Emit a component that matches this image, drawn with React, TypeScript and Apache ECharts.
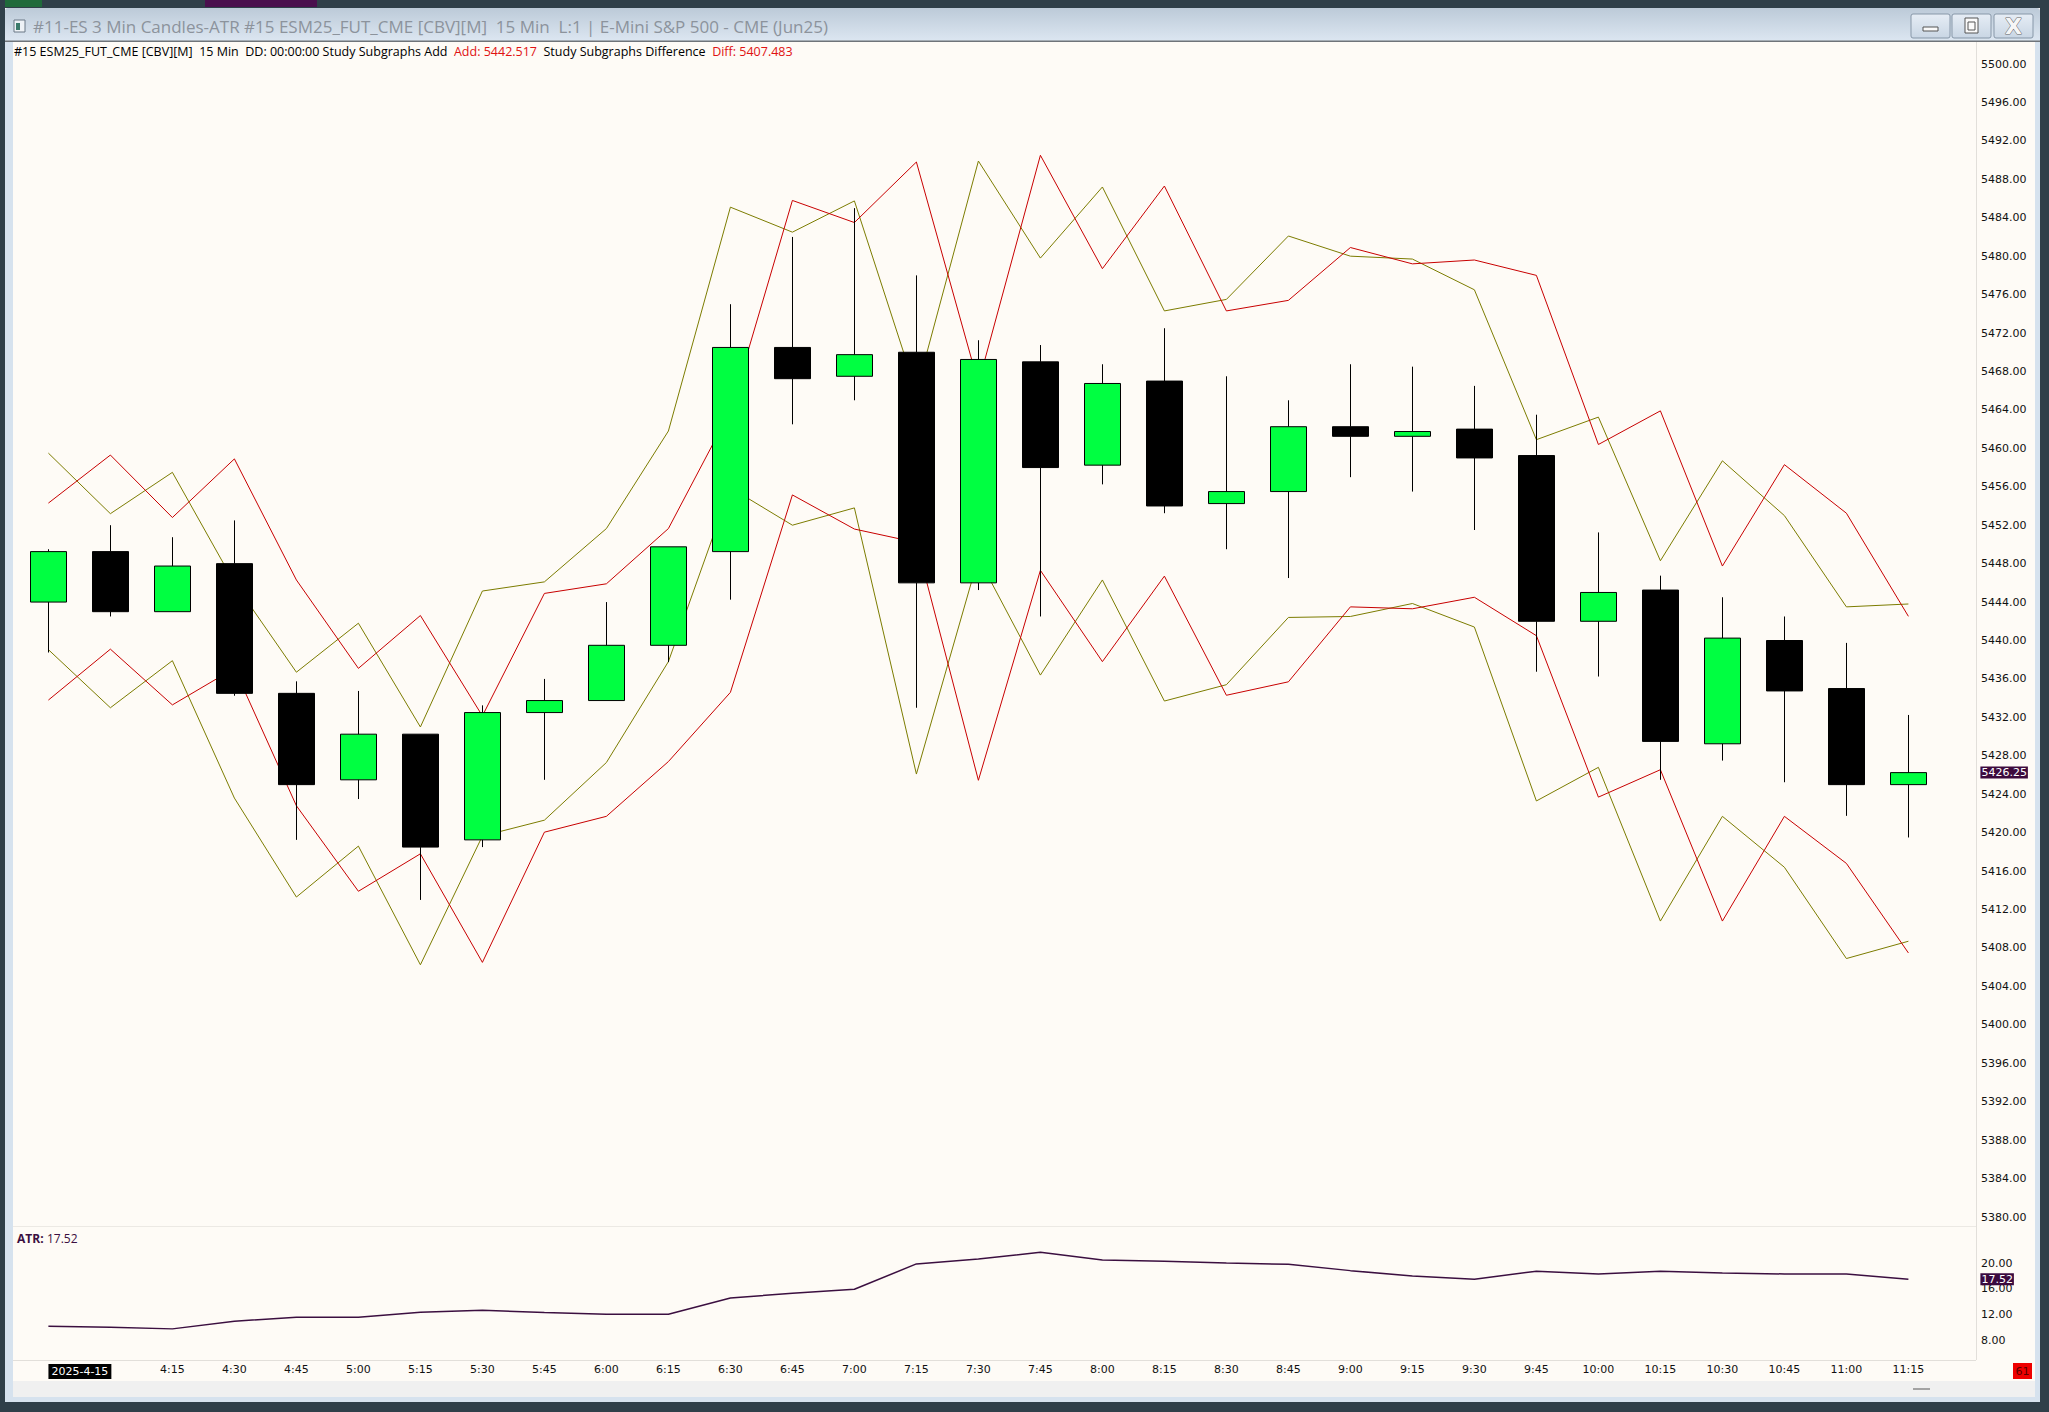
import React, { useEffect, useRef } from 'react';
import * as echarts from 'echarts';

// 15 min bars, 2025-4-15
const times = [
  '3:45', '4:00', '4:15', '4:30', '4:45', '5:00', '5:15', '5:30', '5:45', '6:00', '6:15',
  '6:30', '6:45', '7:00', '7:15', '7:30', '7:45', '8:00', '8:15', '8:30', '8:45', '9:00',
  '9:15', '9:30', '9:45', '10:00', '10:15', '10:30', '10:45', '11:00', '11:15',
];
const dateLabel = '2025-4-15';

const openPrices = [
  5444, 5449.25, 5443, 5448, 5434.5, 5425.5, 5430.25, 5419.25, 5432.5, 5433.75, 5439.5,
  5449.25, 5470.5, 5467.5, 5470, 5446, 5469, 5458.25, 5467, 5454.25, 5455.5, 5462.25,
  5461.25, 5462, 5459.25, 5442, 5445.25, 5429.25, 5440, 5435, 5425,
];
const closePrices = [
  5449.25, 5443, 5447.75, 5434.5, 5425, 5430.25, 5418.5, 5432.5, 5433.75, 5439.5, 5449.75,
  5470.5, 5467.25, 5469.75, 5446, 5469.25, 5458, 5466.75, 5454, 5455.5, 5462.25, 5461.25,
  5461.75, 5459, 5442, 5445, 5429.5, 5440.25, 5434.75, 5425, 5426.25,
];
const highPrices = [
  5449.5, 5452, 5450.75, 5452.5, 5435.75, 5434.75, 5430.25, 5433.25, 5436, 5444, 5449.75,
  5475, 5482, 5485, 5478, 5471.25, 5470.75, 5468.75, 5472.5, 5467.5, 5465, 5468.75,
  5468.5, 5466.5, 5463.5, 5451.25, 5446.75, 5444.5, 5442.5, 5439.75, 5432.25,
];
const lowPrices = [
  5438.75, 5442.5, 5443, 5434.25, 5419.25, 5423.5, 5413, 5418.5, 5425.5, 5433.75, 5437.75,
  5444.25, 5462.5, 5465, 5433, 5445.25, 5442.5, 5456.25, 5453.25, 5449.5, 5446.5, 5457,
  5455.5, 5451.5, 5436.75, 5436.25, 5425.5, 5427.5, 5425.25, 5421.75, 5419.5,
];

// olive bands
const oliveUpper = [
  5459.5, 5453.2, 5457.5, 5446, 5436.7, 5441.8, 5431, 5445.15, 5446.1, 5451.65, 5461.8,
  5485.1, 5482.5, 5485.75, 5465.9, 5489.9, 5479.8, 5487.2, 5474.3, 5475.5, 5482.1, 5480,
  5479.7, 5476.5, 5460.9, 5463.25, 5448.3, 5458.7, 5453, 5443.5, 5443.8,
];
const oliveLower = [
  5439.05, 5433, 5437.9, 5423.6, 5413.3, 5418.6, 5406.25, 5419.65, 5421.3, 5427.3, 5437.8,
  5455.9, 5452, 5453.8, 5426.1, 5448.6, 5436.4, 5446.3, 5433.7, 5435.4, 5442.4, 5442.5,
  5443.85, 5441.4, 5423.3, 5426.8, 5410.8, 5421.7, 5416.4, 5406.9, 5408.7,
];
// red bands (Study Subgraphs Add / Difference)
const addLine = [
  5454.3, 5459.3, 5452.8, 5458.9, 5446.3, 5437.1, 5442.6, 5432.15, 5444.9, 5445.9, 5451.65,
  5463.9, 5485.8, 5483.5, 5489.8, 5466.75, 5490.5, 5478.7, 5487.3, 5474.3, 5475.4, 5480.9,
  5479.2, 5479.6, 5478, 5460.4, 5463.9, 5447.75, 5458.3, 5453.25, 5442.517,
];
const diffLine = [
  5433.8, 5439.1, 5433.3, 5437.1, 5422.8, 5413.9, 5417.8, 5406.5, 5420.05, 5421.7, 5427.4,
  5434.6, 5455.15, 5451.6, 5450.2, 5425.45, 5447.3, 5437.8, 5446.7, 5434.3, 5435.7, 5443.5,
  5443.3, 5444.5, 5440.5, 5423.7, 5426.55, 5410.8, 5421.7, 5416.8, 5407.483,
];

const atrValues = [
  10.16, 10, 9.74, 10.94, 11.56, 11.56, 12.34, 12.66, 12.3, 12.03, 12.03,
  14.58, 15.31, 15.94, 19.9, 20.68, 21.72, 20.52, 20.31, 20.05, 19.84, 18.85,
  18.02, 17.5, 18.75, 18.33, 18.75, 18.49, 18.33, 18.33, 17.52,
];

const FONT = "'DejaVu Sans', 'Noto Sans', sans-serif";
const HEAD_FONT = "'Open Sans', 'Noto Sans', sans-serif";
const DARK = '#2f3f49';
const FRAME = '#d6e2ee';

const App: React.FC = () => {
  const chartRef = useRef<HTMLDivElement | null>(null);

  useEffect(() => {
    document.body.style.margin = '0';
    const chart = echarts.init(chartRef.current!, null, { renderer: 'svg' });

    const last = times.length - 1;
    const candles = times.map((_, i) => [openPrices[i], closePrices[i], lowPrices[i], highPrices[i]]);

    const plotLeft = 17.4;
    const plotWidth = 1922;
    const axisOffset = 36.6;

    const header =
      '{b|#15 ESM25_FUT_CME [CBV][M]  15 Min  DD: 00:00:00 Study Subgraphs Add  }' +
      `{r|Add: ${addLine[last].toFixed(3)}}` +
      '{b|  Study Subgraphs Difference  }' +
      `{r|Diff: ${diffLine[last].toFixed(3)}}`;

    const buttonFill = new echarts.graphic.LinearGradient(0, 0, 0, 1, [
      { offset: 0, color: '#e6edf5' },
      { offset: 1, color: '#c9d6e4' },
    ]);

    const valueTag = (bg: string) => ({
      silent: true,
      symbol: ['none', 'none'],
      lineStyle: { color: 'rgba(0,0,0,0)', width: 0 },
      label: {
        show: true,
        position: 'end',
        distance: 41,
        fontSize: 11,
        fontFamily: FONT,
        color: '#fff',
        backgroundColor: bg,
        padding: [1, 1, 0, 1],
        formatter: (p: any) => Number(p.value).toFixed(2),
      },
    });

    const option = {
      animation: false,
      backgroundColor: '#fefbf6',
      textStyle: { fontFamily: FONT },
      grid: [
        { left: plotLeft, top: 64, width: plotWidth, height: 1153, outerBoundsMode: 'none' },
        { left: plotLeft, top: 1237.7, width: plotWidth, height: 102.3, outerBoundsMode: 'none' },
      ],
      xAxis: [
        {
          type: 'category',
          gridIndex: 0,
          data: times,
          axisLine: { show: false },
          axisTick: { show: false },
          axisLabel: { show: false },
          splitLine: { show: false },
        },
        {
          type: 'category',
          gridIndex: 1,
          data: times,
          axisLine: { show: false },
          axisTick: { show: false },
          splitLine: { show: false },
          axisLabel: {
            interval: 0,
            margin: 24,
            fontSize: 11,
            fontFamily: FONT,
            color: '#111',
            formatter: (v: string, i: number) => {
              if (i === 0) return `{sp|}{d|${dateLabel}}`;
              if (i === 1) return '';
              return v;
            },
            rich: {
              sp: { width: 63 },
              d: {
                backgroundColor: '#000',
                color: '#fff',
                padding: [2, 3, 2, 3],
                fontSize: 11,
                fontFamily: FONT,
              },
            },
          },
        },
      ],
      yAxis: [
        {
          type: 'value',
          gridIndex: 0,
          position: 'right',
          offset: axisOffset,
          min: 5380,
          max: 5500,
          interval: 4,
          axisLine: { show: false },
          axisTick: { show: false },
          splitLine: { show: false },
          axisLabel: {
            margin: 5,
            fontSize: 11,
            fontFamily: FONT,
            color: '#111',
            formatter: (v: number) => v.toFixed(2),
          },
        },
        {
          type: 'value',
          gridIndex: 1,
          position: 'right',
          offset: axisOffset,
          min: 8,
          max: 24,
          interval: 4,
          axisLine: { show: false },
          axisTick: { show: false },
          splitLine: { show: false },
          axisLabel: {
            margin: 5,
            fontSize: 11,
            fontFamily: FONT,
            color: '#111',
            formatter: (v: number) => (v >= 24 ? '' : v.toFixed(2)),
          },
        },
      ],
      series: [
        {
          name: 'Olive upper',
          type: 'line',
          xAxisIndex: 0,
          yAxisIndex: 0,
          data: oliveUpper,
          symbol: 'none',
          lineStyle: { color: '#7c7c00', width: 1 },
          z: 1,
        },
        {
          name: 'Olive lower',
          type: 'line',
          xAxisIndex: 0,
          yAxisIndex: 0,
          data: oliveLower,
          symbol: 'none',
          lineStyle: { color: '#7c7c00', width: 1 },
          z: 1,
        },
        {
          name: 'Add',
          type: 'line',
          xAxisIndex: 0,
          yAxisIndex: 0,
          data: addLine,
          symbol: 'none',
          lineStyle: { color: '#c80000', width: 1 },
          z: 1,
        },
        {
          name: 'Diff',
          type: 'line',
          xAxisIndex: 0,
          yAxisIndex: 0,
          data: diffLine,
          symbol: 'none',
          lineStyle: { color: '#c80000', width: 1 },
          z: 1,
        },
        {
          name: 'ESM25',
          type: 'candlestick',
          xAxisIndex: 0,
          yAxisIndex: 0,
          data: candles,
          barWidth: 37,
          clip: false,
          z: 3,
          itemStyle: {
            color: '#00ff41',
            color0: '#000000',
            borderColor: '#000000',
            borderColor0: '#000000',
            borderWidth: 1,
          },
          markLine: { ...valueTag('#3d0b3d'), data: [{ yAxis: closePrices[last] }] },
        },
        {
          name: 'ATR',
          type: 'line',
          xAxisIndex: 1,
          yAxisIndex: 1,
          data: atrValues,
          symbol: 'none',
          clip: false,
          lineStyle: { color: '#3b0f40', width: 1.5 },
          markLine: { ...valueTag('#3b0a3f'), data: [{ yAxis: atrValues[last] }] },
        },
      ],
      graphic: [
        // desktop behind the window
        { type: 'rect', shape: { x: 0, y: 0, width: 2049, height: 8 }, style: { fill: DARK } },
        { type: 'rect', shape: { x: 0, y: 0, width: 42, height: 7 }, style: { fill: '#1f6a3b' } },
        { type: 'rect', shape: { x: 205, y: 0, width: 112, height: 7 }, style: { fill: '#4a0f4e' } },
        { type: 'rect', shape: { x: 0, y: 0, width: 5, height: 1412 }, style: { fill: DARK } },
        { type: 'rect', shape: { x: 2040, y: 0, width: 9, height: 1412 }, style: { fill: DARK } },
        { type: 'rect', shape: { x: 0, y: 1402, width: 2049, height: 10 }, style: { fill: DARK } },
        // title bar
        {
          type: 'rect',
          shape: { x: 5, y: 8, width: 2035, height: 34, r: [3, 3, 0, 0] },
          style: {
            fill: new echarts.graphic.LinearGradient(0, 0, 0, 1, [
              { offset: 0, color: '#bccad8' },
              { offset: 1, color: '#dde7f2' },
            ]),
          },
        },
        { type: 'rect', shape: { x: 5, y: 40.5, width: 2035, height: 1.5 }, style: { fill: '#6f7479' } },
        { type: 'rect', shape: { x: 14, y: 20, width: 11, height: 12 }, style: { fill: '#eef2f6', stroke: '#6b7886', lineWidth: 1 } },
        { type: 'rect', shape: { x: 16, y: 23, width: 4, height: 7 }, style: { fill: '#3b7b6b' } },
        {
          type: 'text',
          x: 33,
          y: 26,
          style: {
            text: '#11-ES 3 Min Candles-ATR #15 ESM25_FUT_CME [CBV][M]  15 Min  L:1 | E-Mini S&P 500 - CME (Jun25)',
            font: "17px 'Open Sans', 'Noto Sans', sans-serif",
            fill: '#8c939c',
            verticalAlign: 'middle',
          },
        },
        // window buttons
        { type: 'rect', shape: { x: 1911, y: 14, width: 39, height: 24, r: 2 }, style: { fill: buttonFill, stroke: '#8797a8', lineWidth: 1 } },
        { type: 'rect', shape: { x: 1952, y: 14, width: 39, height: 24, r: 2 }, style: { fill: buttonFill, stroke: '#8797a8', lineWidth: 1 } },
        { type: 'rect', shape: { x: 1994, y: 14, width: 39, height: 24, r: 2 }, style: { fill: buttonFill, stroke: '#8797a8', lineWidth: 1 } },
        { type: 'rect', shape: { x: 1923, y: 27, width: 15, height: 4 }, style: { fill: '#fafafa', stroke: '#555', lineWidth: 1 } },
        { type: 'rect', shape: { x: 1965, y: 18, width: 13, height: 15 }, style: { fill: '#fafafa', stroke: '#555', lineWidth: 1 } },
        { type: 'rect', shape: { x: 1968, y: 22, width: 7, height: 8 }, style: { fill: 'none', stroke: '#555', lineWidth: 1 } },
        {
          type: 'text',
          x: 2013.5,
          y: 26,
          style: {
            text: 'X',
            font: "bold 22px 'DejaVu Sans', sans-serif",
            fill: '#f6f6f6',
            stroke: '#666',
            lineWidth: 1,
            align: 'center',
            verticalAlign: 'middle',
          },
        },
        // window frame
        { type: 'rect', shape: { x: 5, y: 42, width: 8, height: 1360 }, style: { fill: FRAME } },
        { type: 'rect', shape: { x: 2035, y: 42, width: 5, height: 1360 }, style: { fill: FRAME } },
        { type: 'rect', shape: { x: 13, y: 1381, width: 2022, height: 16 }, style: { fill: '#f0f0f0' } },
        { type: 'rect', shape: { x: 5, y: 1397, width: 2035, height: 5 }, style: { fill: FRAME } },
        { type: 'rect', shape: { x: 1913, y: 1388, width: 17, height: 2 }, style: { fill: '#a3a3a3' } },
        // pane separators
        { type: 'line', shape: { x1: 1976.5, y1: 42, x2: 1976.5, y2: 1360 }, style: { stroke: '#e2dfda', lineWidth: 1 } },
        { type: 'line', shape: { x1: 13, y1: 1226.5, x2: 1976, y2: 1226.5 }, style: { stroke: '#ece9e4', lineWidth: 1 } },
        { type: 'line', shape: { x1: 13, y1: 1360.5, x2: 1976, y2: 1360.5 }, style: { stroke: '#e2dfda', lineWidth: 1 } },
        // header
        {
          type: 'text',
          x: 14,
          y: 51,
          style: {
            text: header,
            verticalAlign: 'middle',
            rich: {
              b: { fontFamily: HEAD_FONT, fontSize: 12.5, fontWeight: 500, fill: '#000', color: '#000' },
              r: { fontFamily: HEAD_FONT, fontSize: 12.5, fontWeight: 500, fill: '#e01212', color: '#e01212' },
            },
          },
        },
        // ATR pane title
        {
          type: 'text',
          x: 17,
          y: 1238,
          style: {
            text: `{k|ATR:} {v|${atrValues[last].toFixed(2)}}`,
            verticalAlign: 'middle',
            rich: {
              k: { fontFamily: HEAD_FONT, fontSize: 12, fontWeight: 'bold', fill: '#3b0f40', color: '#3b0f40' },
              v: { fontFamily: HEAD_FONT, fontSize: 12, fill: '#3b0f40', color: '#3b0f40' },
            },
          },
        },
        // bar counter
        { type: 'rect', shape: { x: 2013, y: 1363, width: 19, height: 16 }, style: { fill: '#ee0000' } },
        {
          type: 'text',
          x: 2022.5,
          y: 1371,
          style: { text: '61', font: `11px ${FONT}`, fill: '#5a0000', align: 'center', verticalAlign: 'middle' },
        },
      ],
    };

    chart.setOption(option as any);

    return () => {
      chart.dispose();
    };
  }, []);

  return <div ref={chartRef} style={{ width: 2049, height: 1412 }} />;
};

export default App;
